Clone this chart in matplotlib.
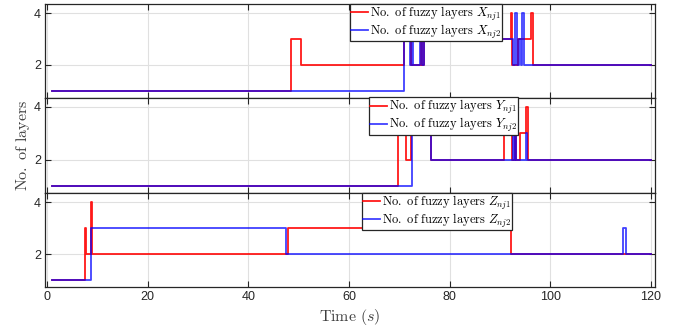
import matplotlib
matplotlib.use("Agg")
import matplotlib.pyplot as plt
import numpy as np

plt.rcParams['mathtext.fontset'] = 'cm'
plt.rcParams['font.family'] = ['Liberation Sans', 'DejaVu Sans']

# ---- data (step functions: breakpoints in time, level after each breakpoint) ----
t_x1 = [1, 48.4, 50.4, 70.9, 72.3, 74.3, 74.6, 75.0, 92.1, 92.4, 93.5, 96.2, 96.5, 120]
v_x1 = [1, 3, 2, 3, 2, 3, 2, 3, 4, 2, 3, 4, 2, 2]
t_x2 = [1, 70.9, 72.2, 72.5, 72.8, 74.2, 74.5, 74.9, 92.5, 93.0, 93.3, 93.8, 94.1, 94.4, 94.7, 120]
v_x2 = [1, 3, 2, 3, 2, 3, 2, 3, 2, 4, 2, 3, 2, 4, 2, 2]

t_y1 = [1, 69.7, 71.4, 72.4, 76.2, 90.7, 92.4, 92.9, 93.1, 94.0, 95.2, 95.5, 120]
v_y1 = [1, 3, 2, 3, 2, 3, 2, 3, 2, 3, 4, 2, 2]
t_y2 = [1, 72.6, 76.2, 92.6, 92.8, 93.0, 93.2, 95.2, 95.4, 120]
v_y2 = [1, 3, 2, 3, 2, 3, 2, 3, 2, 2]

t_z1 = [1, 7.5, 7.65, 8.8, 9.0, 47.8, 92.1, 120]
v_z1 = [1, 3, 2, 4, 2, 3, 2, 2]
t_z2 = [1, 8.7, 47.5, 114.4, 115.0, 120]
v_z2 = [1, 3, 2, 3, 2, 2]

labels_x = [r'$\mathrm{No.\ of\ fuzzy\ layers}\ X_{nj1}$', r'$\mathrm{No.\ of\ fuzzy\ layers}\ X_{nj2}$']
labels_y = [r'$\mathrm{No.\ of\ fuzzy\ layers}\ Y_{nj1}$', r'$\mathrm{No.\ of\ fuzzy\ layers}\ Y_{nj2}$']
labels_z = [r'$\mathrm{No.\ of\ fuzzy\ layers}\ Z_{nj1}$', r'$\mathrm{No.\ of\ fuzzy\ layers}\ Z_{nj2}$']

x_ticks = [0, 20, 40, 60, 80, 100, 120]
y_ticks = [2, 4]

fig = plt.figure(figsize=(6.89, 3.34), dpi=100)
left, right = 45 / 689, 655 / 689
panel_px = [(4, 97.5), (97.5, 193), (193, 287)]
leg_left = [0.50, 0.531, 0.52]
series = [(t_x1, v_x1, t_x2, v_x2, labels_x),
          (t_y1, v_y1, t_y2, v_y2, labels_y),
          (t_z1, v_z1, t_z2, v_z2, labels_z)]
axes = []
for i, ((top, bot), (ta, va, tb, vb, labs)) in enumerate(zip(panel_px, series)):
    ax = fig.add_axes([left, 1 - bot / 334, right - left, (bot - top) / 334])
    axes.append(ax)
    ax.plot(ta, va, drawstyle='steps-post', color='#ff0000', lw=1.3, label=labs[0], alpha=0.9)
    ax.plot(tb, vb, drawstyle='steps-post', color='#0000ff', lw=1.3, label=labs[1], alpha=0.75)
    ax.set_xlim(-0.4, 120.8)
    ax.set_ylim(0.74, 4.35)
    ax.set_xticks(x_ticks)
    ax.set_yticks(y_ticks)
    ax.grid(True, color='#e0e0e0', lw=0.8)
    ax.set_axisbelow(True)
    ax.tick_params(direction='in', top=True, right=True, length=4, width=0.8,
                   labelsize=9, colors='#262626', pad=3)
    for s in ax.spines.values():
        s.set_color('#262626')
        s.set_linewidth(0.9)
    if i < 2:
        ax.tick_params(labelbottom=False)
    leg = ax.legend(loc='upper left', bbox_to_anchor=(leg_left[i], 1.0), fontsize=9,
                    frameon=True, fancybox=False, framealpha=1, edgecolor='#262626',
                    handlelength=1.4, handletextpad=0.15, borderpad=0.05, labelspacing=0.0,
                    borderaxespad=0.0)
    leg.get_frame().set_linewidth(0.9)

axes[1].set_ylabel(r'$\mathrm{No.\ of\ layers}$', fontsize=11.5, color='#404040', labelpad=1)
axes[2].set_xlabel(r'$\mathrm{Time}\ (s)$', fontsize=11.5, color='#404040', labelpad=3)

fig.savefig('out.png', dpi=100)
